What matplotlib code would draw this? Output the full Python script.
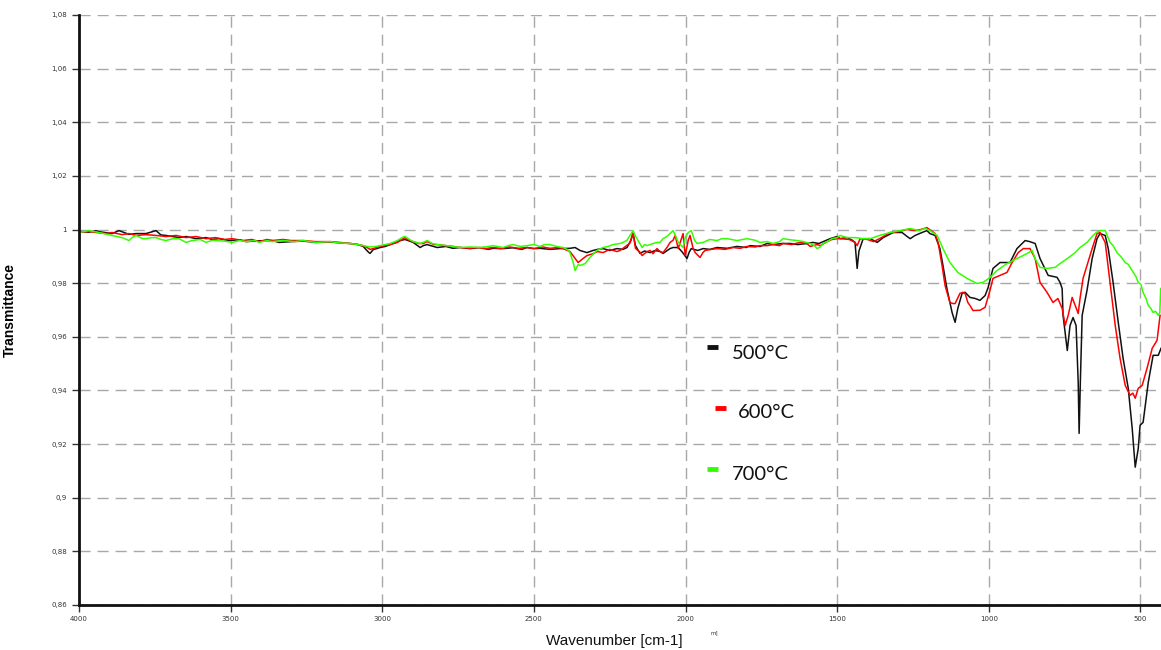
import matplotlib.pyplot as plt
from matplotlib.lines import Line2D

# FTIR spectra (wavenumber in cm-1, transmittance) of the powder calcined at three temperatures
spec_500 = [
    (4000, 0.9993), (3967, 0.9990), (3944, 0.9996), (3934, 0.9992), (3891, 0.9985),
    (3868, 0.9996), (3835, 0.9982), (3812, 0.9985), (3779, 0.9985), (3746, 0.9996),
    (3730, 0.9980), (3713, 0.9978), (3670, 0.9970), (3647, 0.9974), (3614, 0.9966),
    (3581, 0.9970), (3561, 0.9963), (3538, 0.9966), (3505, 0.9959), (3470, 0.9962),
    (3449, 0.9955), (3406, 0.9958), (3363, 0.9959), (3340, 0.9952), (3300, 0.9955),
    (3261, 0.9957), (3220, 0.9952), (3172, 0.9954), (3140, 0.9950), (3106, 0.9948),
    (3080, 0.9944), (3063, 0.9937), (3045, 0.9915), (3040, 0.9911), (3030, 0.9925),
    (3007, 0.9933), (2990, 0.9937), (2974, 0.9944), (2955, 0.9952), (2941, 0.9959),
    (2925, 0.9963), (2898, 0.9952), (2875, 0.9933), (2865, 0.9940), (2852, 0.9944),
    (2819, 0.9933), (2790, 0.9937), (2767, 0.9930), (2743, 0.9933), (2711, 0.9929),
    (2678, 0.9933), (2650, 0.9926), (2635, 0.9930), (2602, 0.9929), (2569, 0.9932),
    (2540, 0.9926), (2523, 0.9933), (2500, 0.9929), (2480, 0.9930), (2447, 0.9926),
    (2414, 0.9929), (2381, 0.9930), (2364, 0.9933), (2348, 0.9922), (2325, 0.9914),
    (2305, 0.9922), (2290, 0.9926), (2272, 0.9929), (2250, 0.9922), (2226, 0.9929),
    (2206, 0.9926), (2193, 0.9933), (2180, 0.9960), (2173, 0.9985), (2165, 0.9940),
    (2150, 0.9911), (2135, 0.9920), (2117, 0.9914), (2100, 0.9922), (2084, 0.9918),
    (2074, 0.9911), (2051, 0.9929), (2041, 0.9933), (2024, 0.9933), (2010, 0.9915),
    (1995, 0.9892), (1988, 0.9915), (1981, 0.9929), (1960, 0.9922), (1942, 0.9929),
    (1920, 0.9926), (1896, 0.9933), (1863, 0.9930), (1830, 0.9937), (1800, 0.9933),
    (1787, 0.9940), (1754, 0.9937), (1731, 0.9948), (1711, 0.9944), (1680, 0.9948),
    (1655, 0.9948), (1630, 0.9944), (1599, 0.9948), (1580, 0.9952), (1560, 0.9948),
    (1546, 0.9955), (1523, 0.9966), (1500, 0.9974), (1490, 0.9966), (1467, 0.9970),
    (1450, 0.9960), (1441, 0.9952), (1434, 0.9855), (1428, 0.9920), (1424, 0.9933),
    (1414, 0.9966), (1391, 0.9966), (1368, 0.9952), (1348, 0.9970), (1315, 0.9989),
    (1286, 0.9989), (1269, 0.9974), (1259, 0.9966), (1243, 0.9978), (1220, 0.9989),
    (1204, 0.9996), (1194, 0.9985), (1177, 0.9978), (1161, 0.9929), (1151, 0.9866),
    (1138, 0.9780), (1121, 0.9691), (1111, 0.9654), (1102, 0.9706), (1088, 0.9762),
    (1078, 0.9766), (1062, 0.9747), (1045, 0.9743), (1029, 0.9736), (1012, 0.9754),
    (1002, 0.9784), (986, 0.9855), (963, 0.9877), (930, 0.9877), (907, 0.9929),
    (880, 0.9959), (865, 0.9955), (847, 0.9948), (831, 0.9892), (804, 0.9829),
    (775, 0.9822), (765, 0.9803), (758, 0.9780), (755, 0.9680), (741, 0.9549),
    (732, 0.9642), (722, 0.9672), (712, 0.9642), (705, 0.9430), (702, 0.9240),
    (698, 0.9430), (692, 0.9680), (676, 0.9773), (659, 0.9892), (643, 0.9966),
    (633, 0.9985), (616, 0.9978), (606, 0.9929), (590, 0.9803), (573, 0.9654),
    (557, 0.9520), (540, 0.9408), (527, 0.9259), (517, 0.9114), (507, 0.9184),
    (501, 0.9270), (491, 0.9281), (474, 0.9430), (458, 0.9531), (441, 0.9531),
    (432, 0.9557),
]

spec_600 = [
    (4000, 0.9990), (3967, 0.9993), (3944, 0.9989), (3910, 0.9985), (3891, 0.9989),
    (3858, 0.9981), (3835, 0.9985), (3812, 0.9978), (3779, 0.9981), (3746, 0.9978),
    (3713, 0.9974), (3680, 0.9978), (3647, 0.9970), (3614, 0.9974), (3581, 0.9966),
    (3550, 0.9970), (3520, 0.9963), (3495, 0.9966), (3460, 0.9959), (3430, 0.9963),
    (3406, 0.9955), (3380, 0.9963), (3363, 0.9959), (3327, 0.9963), (3300, 0.9959),
    (3261, 0.9959), (3220, 0.9955), (3172, 0.9955), (3140, 0.9952), (3106, 0.9948),
    (3080, 0.9944), (3063, 0.9940), (3050, 0.9933), (3040, 0.9926), (3030, 0.9929),
    (3007, 0.9937), (2974, 0.9944), (2950, 0.9952), (2925, 0.9970), (2910, 0.9959),
    (2898, 0.9955), (2880, 0.9948), (2865, 0.9948), (2852, 0.9955), (2830, 0.9944),
    (2819, 0.9944), (2790, 0.9940), (2767, 0.9937), (2743, 0.9933), (2711, 0.9930),
    (2690, 0.9933), (2660, 0.9929), (2635, 0.9933), (2610, 0.9929), (2580, 0.9935),
    (2550, 0.9930), (2523, 0.9933), (2500, 0.9929), (2470, 0.9935), (2447, 0.9930),
    (2420, 0.9933), (2404, 0.9929), (2381, 0.9918), (2371, 0.9903), (2354, 0.9877),
    (2340, 0.9890), (2325, 0.9903), (2305, 0.9910), (2290, 0.9918), (2272, 0.9914),
    (2250, 0.9926), (2226, 0.9918), (2216, 0.9922), (2200, 0.9935), (2183, 0.9950),
    (2173, 0.9989), (2165, 0.9930), (2150, 0.9915), (2143, 0.9903), (2127, 0.9918),
    (2117, 0.9922), (2107, 0.9910), (2094, 0.9929), (2084, 0.9918), (2074, 0.9914),
    (2060, 0.9935), (2051, 0.9952), (2041, 0.9960), (2034, 0.9978), (2024, 0.9929),
    (2015, 0.9960), (2008, 0.9985), (2001, 0.9903), (1991, 0.9960), (1985, 0.9978),
    (1975, 0.9930), (1968, 0.9914), (1952, 0.9896), (1942, 0.9915), (1935, 0.9922),
    (1915, 0.9926), (1896, 0.9929), (1870, 0.9926), (1843, 0.9933), (1820, 0.9930),
    (1797, 0.9937), (1770, 0.9935), (1754, 0.9940), (1731, 0.9940), (1711, 0.9944),
    (1690, 0.9940), (1678, 0.9948), (1650, 0.9944), (1622, 0.9952), (1600, 0.9948),
    (1589, 0.9937), (1566, 0.9944), (1556, 0.9940), (1533, 0.9955), (1517, 0.9963),
    (1500, 0.9966), (1490, 0.9966), (1460, 0.9963), (1441, 0.9952), (1434, 0.9940),
    (1424, 0.9966), (1400, 0.9963), (1380, 0.9955), (1360, 0.9966), (1325, 0.9989),
    (1300, 0.9992), (1269, 1.0000), (1243, 0.9996), (1225, 1.0000), (1204, 1.0007),
    (1190, 0.9996), (1177, 0.9985), (1167, 0.9952), (1154, 0.9866), (1144, 0.9791),
    (1128, 0.9728), (1118, 0.9724), (1111, 0.9724), (1095, 0.9762), (1085, 0.9766),
    (1078, 0.9762), (1069, 0.9728), (1062, 0.9717), (1052, 0.9698), (1029, 0.9699),
    (1012, 0.9710), (996, 0.9773), (986, 0.9818), (963, 0.9829), (940, 0.9840),
    (923, 0.9877), (903, 0.9914), (886, 0.9929), (864, 0.9929), (847, 0.9892),
    (831, 0.9803), (808, 0.9766), (788, 0.9728), (772, 0.9743), (758, 0.9706),
    (748, 0.9643), (738, 0.9680), (725, 0.9747), (715, 0.9717), (705, 0.9687),
    (699, 0.9743), (689, 0.9818), (676, 0.9866), (659, 0.9929), (643, 0.9985),
    (633, 0.9989), (616, 0.9952), (600, 0.9803), (583, 0.9643), (567, 0.9520),
    (550, 0.9419), (534, 0.9382), (525, 0.9390), (517, 0.9371), (507, 0.9408),
    (494, 0.9419), (478, 0.9483), (461, 0.9557), (445, 0.9587), (435, 0.9680),
]

spec_700 = [
    (4000, 0.9989), (3967, 0.9996), (3934, 0.9989), (3891, 0.9978), (3858, 0.9970),
    (3835, 0.9959), (3825, 0.9970), (3812, 0.9978), (3790, 0.9966), (3779, 0.9966),
    (3760, 0.9970), (3746, 0.9970), (3730, 0.9963), (3713, 0.9959), (3690, 0.9966),
    (3670, 0.9966), (3647, 0.9952), (3627, 0.9959), (3600, 0.9963), (3581, 0.9952),
    (3560, 0.9960), (3538, 0.9959), (3510, 0.9955), (3495, 0.9952), (3470, 0.9959),
    (3449, 0.9955), (3420, 0.9959), (3406, 0.9952), (3380, 0.9959), (3363, 0.9955),
    (3327, 0.9959), (3290, 0.9955), (3261, 0.9959), (3220, 0.9952), (3172, 0.9955),
    (3140, 0.9950), (3106, 0.9948), (3080, 0.9944), (3063, 0.9940), (3040, 0.9935),
    (3020, 0.9937), (3007, 0.9940), (2974, 0.9948), (2950, 0.9959), (2935, 0.9970),
    (2925, 0.9974), (2910, 0.9963), (2898, 0.9955), (2875, 0.9948), (2865, 0.9952),
    (2852, 0.9959), (2835, 0.9948), (2819, 0.9944), (2790, 0.9940), (2767, 0.9937),
    (2743, 0.9933), (2711, 0.9935), (2678, 0.9933), (2650, 0.9937), (2635, 0.9940),
    (2602, 0.9933), (2585, 0.9940), (2569, 0.9944), (2545, 0.9937), (2523, 0.9940),
    (2500, 0.9944), (2480, 0.9937), (2465, 0.9944), (2447, 0.9944), (2425, 0.9937),
    (2404, 0.9933), (2390, 0.9926), (2381, 0.9914), (2371, 0.9880), (2364, 0.9847),
    (2354, 0.9870), (2348, 0.9866), (2331, 0.9873), (2315, 0.9896), (2292, 0.9922),
    (2272, 0.9933), (2255, 0.9937), (2239, 0.9944), (2216, 0.9948), (2206, 0.9952),
    (2193, 0.9960), (2183, 0.9978), (2173, 0.9996), (2165, 0.9975), (2160, 0.9966),
    (2143, 0.9933), (2135, 0.9944), (2127, 0.9940), (2107, 0.9948), (2094, 0.9952),
    (2084, 0.9952), (2074, 0.9966), (2060, 0.9975), (2051, 0.9985), (2041, 0.9996),
    (2034, 0.9980), (2024, 0.9952), (2008, 0.9933), (2001, 0.9970), (1991, 0.9989),
    (1981, 0.9996), (1970, 0.9960), (1962, 0.9948), (1942, 0.9952), (1920, 0.9963),
    (1896, 0.9959), (1880, 0.9966), (1863, 0.9966), (1845, 0.9962), (1830, 0.9959),
    (1810, 0.9963), (1797, 0.9966), (1770, 0.9960), (1754, 0.9952), (1731, 0.9955),
    (1711, 0.9948), (1690, 0.9955), (1678, 0.9966), (1655, 0.9962), (1632, 0.9959),
    (1610, 0.9955), (1589, 0.9948), (1575, 0.9940), (1566, 0.9929), (1556, 0.9935),
    (1546, 0.9948), (1533, 0.9955), (1517, 0.9966), (1500, 0.9970), (1490, 0.9978),
    (1467, 0.9970), (1441, 0.9970), (1414, 0.9966), (1391, 0.9966), (1360, 0.9978),
    (1325, 0.9989), (1292, 0.9996), (1259, 1.0004), (1230, 0.9996), (1210, 1.0004),
    (1194, 0.9996), (1170, 0.9978), (1151, 0.9929), (1128, 0.9877), (1102, 0.9840),
    (1072, 0.9818), (1039, 0.9799), (1019, 0.9803), (996, 0.9821), (973, 0.9847),
    (940, 0.9873), (907, 0.9892), (873, 0.9911), (857, 0.9922), (847, 0.9892),
    (831, 0.9859), (808, 0.9855), (781, 0.9859), (765, 0.9873), (741, 0.9892),
    (715, 0.9914), (699, 0.9933), (676, 0.9952), (656, 0.9978), (645, 0.9989),
    (633, 0.9996), (616, 0.9996), (600, 0.9952), (590, 0.9940), (577, 0.9914),
    (565, 0.9900), (550, 0.9877), (540, 0.9870), (527, 0.9847), (515, 0.9825),
    (507, 0.9803), (498, 0.9795), (491, 0.9765), (482, 0.9745), (474, 0.9717),
    (465, 0.9705), (458, 0.9691), (450, 0.9695), (441, 0.9680), (436, 0.9690),
    (433, 0.9780),
]

series = [
    ("500°C", spec_500, "#111111"),
    ("600°C", spec_600, "#ff0000"),
    ("700°C", spec_700, "#33ff00"),
]

x_ticks = [4000, 3500, 3000, 2500, 2000, 1500, 1000, 500]
y_ticks = [1.08, 1.06, 1.04, 1.02, 1.0, 0.98, 0.96, 0.94, 0.92, 0.90, 0.88, 0.86]
y_tick_labels = ["1,08", "1,06", "1,04", "1,02", "1", "0,98", "0,96",
                 "0,94", "0,92", "0,9", "0,88", "0,86"]

W, H = 1161, 650


def fig_xy(px, py):
    # pixel position (from the top-left corner) -> figure fraction
    return px / W, 1 - py / H


fig = plt.figure(figsize=(W / 100, H / 100), dpi=100)
ax = fig.add_axes([79 / W, 45 / H, (W - 79) / W, 590 / H])

for name, spec, color in series:
    wn = [p[0] for p in spec]
    tr = [p[1] for p in spec]
    ax.plot(wn, tr, color=color, linewidth=1.1)

ax.set_xlim(4000, 432)
ax.set_ylim(0.86, 1.08)
ax.set_xticks(x_ticks)
ax.set_xticklabels([str(t) for t in x_ticks])
ax.set_yticks(y_ticks)
ax.set_yticklabels(y_tick_labels)

ax.grid(True, color="#a8a8a8", linestyle=(0, (8, 5)), linewidth=1.0)
ax.set_axisbelow(True)
for side in ("top", "right"):
    ax.spines[side].set_visible(False)
for side in ("left", "bottom"):
    ax.spines[side].set_linewidth(2)
    ax.spines[side].set_color("#111111")

ax.tick_params(axis="both", direction="out", length=5, width=1,
               labelsize=5, labelcolor="#333333", colors="#333333")
ax.tick_params(axis="x", pad=3)

ax.set_ylabel("Transmittance", fontsize=10, fontweight="bold",
              family="Liberation Sans")
ax.yaxis.set_label_coords(-62 / (W - 79), 0.5)

fig.text(*fig_xy(614, 641), "Wavenumber [cm-1]", fontsize=11,
         family="Liberation Sans", ha="center", va="center", color="#111111")
fig.text(*fig_xy(714, 633), "m]", fontsize=4, ha="center", va="center",
         color="#333333")

# hand-placed key beside the fingerprint region
key = [
    ("500°C", "#111111", 707, 347, 732, 353),
    ("600°C", "#ff0000", 715, 408, 738, 413),
    ("700°C", "#33ff00", 707, 469, 732, 474),
]
for label, color, mx, my, tx, ty in key:
    x0, y0 = fig_xy(mx, my)
    x1, _ = fig_xy(mx + 11, my)
    fig.add_artist(Line2D([x0, x1], [y0, y0], color=color, linewidth=3.5,
                          solid_capstyle="butt", transform=fig.transFigure))
    fig.text(*fig_xy(tx, ty), label, fontsize=14.5, family="Lato",
             ha="left", va="center", color="#111111")

fig.savefig("out.png", dpi=100)
